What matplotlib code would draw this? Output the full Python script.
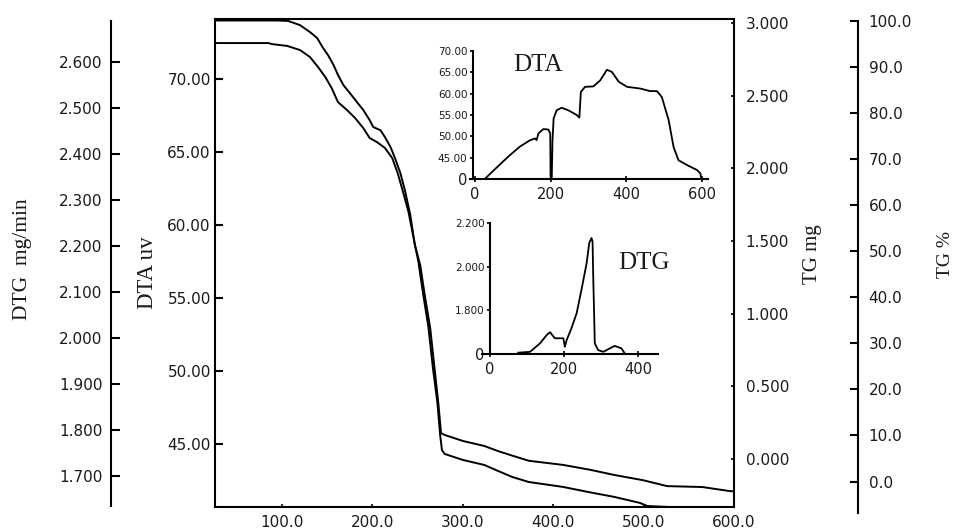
import matplotlib
matplotlib.use("Agg")
import matplotlib.pyplot as plt
from matplotlib.ticker import FixedLocator, FixedFormatter

# ---- main TG curves (temperature in C) ----
TGP_T = [26, 95, 107, 120, 131, 139, 145, 151, 157, 162, 168, 175, 183, 190, 197,
         201, 209, 214, 220, 225, 231, 236, 242, 247, 253, 258, 264, 269, 273, 276,
         280, 300, 324, 339, 355, 373, 411, 442, 468, 499, 526, 565, 596, 600]
TGP_V = [100.0, 100.0, 99.9, 99.0, 97.5, 96.2, 94.2, 92.5, 90.4, 88.2, 86.0, 84.3,
         82.3, 80.6, 78.4, 76.9, 76.2, 74.7, 72.6, 70.2, 66.9, 63.2, 57.8, 51.3,
         46.9, 40.4, 33.3, 24.2, 17.0, 10.5, 10.1, 8.8, 7.7, 6.6, 5.6, 4.5, 3.6,
         2.5, 1.4, 0.3, -1.0, -1.2, -2.1, -2.1]

TGM_T = [26, 85, 89, 106, 120, 131, 140, 148, 155, 162, 172, 181, 190, 197, 205,
         214, 222, 228, 234, 240, 245, 251, 256, 262, 267, 272, 275, 277, 280, 300,
         324, 339, 355, 373, 411, 439, 468, 496, 504, 528, 535, 600]
TGM_V = [2.862, 2.862, 2.855, 2.842, 2.814, 2.766, 2.697, 2.628, 2.553, 2.456,
         2.401, 2.346, 2.277, 2.209, 2.181, 2.140, 2.071, 1.968, 1.837, 1.700,
         1.541, 1.356, 1.142, 0.909, 0.627, 0.385, 0.165, 0.062, 0.035, -0.006,
         -0.041, -0.082, -0.124, -0.158, -0.192, -0.227, -0.261, -0.302, -0.323,
         -0.33, -0.364, -0.406]

# ---- DTA inset ----
DTA_T = [26, 60, 90, 119, 146, 159, 163, 168, 181, 194, 199, 200, 203, 205, 208,
         216, 229, 247, 269, 276, 280, 291, 313, 331, 349, 362, 380, 402, 437, 463,
         481, 494, 512, 525, 538, 560, 587, 596, 598]
DTA_V = [40.0, 42.9, 45.4, 47.6, 49.1, 49.5, 49.1, 50.7, 51.7, 51.6, 50.7, 40.0,
         40.0, 49.0, 54.2, 56.1, 56.7, 56.1, 55.0, 54.4, 60.4, 61.6, 61.7, 63.1,
         65.6, 65.1, 62.8, 61.6, 61.2, 60.6, 60.6, 59.2, 53.8, 47.5, 44.4, 43.3,
         42.1, 41.3, 40.0]

# ---- DTG inset ----
DTG_T = [76, 108, 135, 153, 162, 175, 198, 202, 207, 220, 234, 247, 261, 268, 274,
         277, 279, 281, 283, 292, 306, 324, 337, 355, 364]
DTG_V = [1.606, 1.610, 1.649, 1.687, 1.700, 1.672, 1.672, 1.633, 1.664, 1.718,
         1.787, 1.894, 2.016, 2.108, 2.131, 2.116, 1.940, 1.800, 1.649, 1.618,
         1.610, 1.626, 1.637, 1.626, 1.603]

X_TICKS = [100, 200, 300, 400, 500, 600]
DTA_TICKS = [45, 50, 55, 60, 65, 70]
TGMG_TICKS = [0, 0.5, 1.0, 1.5, 2.0, 2.5, 3.0]
TGP_TICKS = [0, 10, 20, 30, 40, 50, 60, 70, 80, 90, 100]
DTG_TICKS = [1.7, 1.8, 1.9, 2.0, 2.1, 2.2, 2.3, 2.4, 2.5, 2.6]
IN_DTA_YT = [40, 45, 50, 55, 60, 65, 70]
IN_DTA_YL = ["0", "45.00", "50.00", "55.00", "60.00", "65.00", "70.00"]
IN_DTA_XT = [0, 200, 400, 600]
IN_DTG_YT = [1.6, 1.8, 2.0, 2.2]
IN_DTG_YL = ["0", "1.800", "2.000", "2.200"]
IN_DTG_XT = [0, 200, 400]

W, H = 955, 532
TC = "#1a1a1a"
SERIF = "Liberation Serif"
plt.rcParams["font.family"] = "DejaVu Sans"
plt.rcParams["axes.linewidth"] = 1.5


def fr(x0, y0, x1, y1):
    return [x0 / W, 1 - y1 / H, (x1 - x0) / W, (y1 - y0) / H]


fig = plt.figure(figsize=(W / 100, H / 100), dpi=100)
ax = fig.add_axes(fr(215, 19, 734, 507))
ax.set_xlim(26, 600)
ax.set_ylim(40.68, 74.11)
ax.set_xticks(X_TICKS)
ax.set_xticklabels([f"{v:.1f}" for v in X_TICKS])
ax.set_yticks(DTA_TICKS)
ax.set_yticklabels([f"{v:.2f}" for v in DTA_TICKS])
ax.tick_params(axis="x", direction="in", length=2.5, width=1.2, pad=6,
               labelsize=11, labelcolor=TC)
ax.tick_params(axis="y", direction="in", length=6, width=1.5, pad=3,
               labelsize=11, labelcolor=TC)
ax.spines["right"].set_visible(False)

# TG mg on the right frame
ax2 = ax.twinx()
ax2.set_ylim(-0.33, 3.0275)
ax2.set_yticks(TGMG_TICKS)
ax2.set_yticklabels([f"{v:.3f}" for v in TGMG_TICKS])
ax2.tick_params(axis="y", direction="in", length=2.5, width=1.2, pad=8.5,
                labelsize=11, labelcolor=TC)
for s in ["left", "top", "bottom"]:
    ax2.spines[s].set_visible(False)
ax2.plot(TGM_T, TGM_V, color="black", lw=1.4)

# TG % offset axis
ax3 = ax.twinx()
ax3.set_ylim(-5.53, 100.33)
ax3.spines["right"].set_position(("axes", 1.238))
ax3.spines["right"].set_bounds(-6.8, 100)
for s in ["left", "top", "bottom"]:
    ax3.spines[s].set_visible(False)
ax3.set_yticks(TGP_TICKS)
ax3.set_yticklabels([f"{v:.1f}" for v in TGP_TICKS])
ax3.tick_params(axis="y", direction="in", length=5.5, width=1.5, pad=8,
                labelsize=11, labelcolor=TC)
ax3.plot(TGP_T, TGP_V, color="black", lw=1.4)

# DTG offset axis on the far left
ax4 = ax.twinx()
ax4.set_ylim(1.632, 2.6935)
ax4.yaxis.set_ticks_position("left")
ax4.yaxis.set_label_position("left")
ax4.spines["left"].set_visible(True)
ax4.spines["left"].set_position(("axes", -0.2004))
ax4.spines["left"].set_bounds(1.634, 2.689)
for s in ["right", "top", "bottom"]:
    ax4.spines[s].set_visible(False)
ax4.set_yticks(DTG_TICKS)
ax4.set_yticklabels([f"{v:.3f}" for v in DTG_TICKS])
ax4.tick_params(axis="y", direction="in", length=6.5, width=1.5, pad=6,
                labelsize=11, labelcolor=TC)

# axis titles
lab = dict(family=SERIF, rotation=90, ha="center", va="center", color=TC)
fig.text(22 / W, 1 - 259 / H, "DTG  mg/min", fontsize=15.5, **lab)
fig.text(147 / W, 1 - 273 / H, "DTA uv", fontsize=16.5, **lab)
fig.text(812 / W, 1 - 254 / H, "TG mg", fontsize=15, **lab)
fig.text(945 / W, 1 - 255 / H, "TG %", fontsize=14, **lab)

# DTA inset
ia = fig.add_axes(fr(470, 51, 708, 179))
ia.patch.set_alpha(0)
ia.plot(DTA_T, DTA_V, color="black", lw=1.3)
ia.set_xlim(-13, 616)
ia.set_ylim(40, 70)
ia.spines["left"].set_position(("data", -5))
for s in ["right", "top"]:
    ia.spines[s].set_visible(False)
ia.yaxis.set_major_locator(FixedLocator(IN_DTA_YT))
ia.yaxis.set_major_formatter(FixedFormatter(IN_DTA_YL))
ia.set_xticks(IN_DTA_XT)
ia.tick_params(axis="y", direction="out", length=2.5, width=1.2, pad=1.5,
               labelsize=7.5, labelcolor=TC)
ia.tick_params(axis="x", direction="inout", length=4, width=1.2, pad=4,
               labelsize=10.5, labelcolor=TC)
ia.get_yticklabels()[0].set_fontsize(10.5)
ia.text(0.286, 0.887, "DTA", transform=ia.transAxes, family=SERIF, fontsize=18,
        ha="center", va="center", color=TC)

# DTG inset
ig = fig.add_axes(fr(482, 223, 658, 354))
ig.patch.set_alpha(0)
ig.plot(DTG_T, DTG_V, color="black", lw=1.3)
ig.set_xlim(-22, 454)
ig.set_ylim(1.6, 2.2)
ig.spines["left"].set_position(("data", 0))
for s in ["right", "top"]:
    ig.spines[s].set_visible(False)
ig.yaxis.set_major_locator(FixedLocator(IN_DTG_YT))
ig.yaxis.set_major_formatter(FixedFormatter(IN_DTG_YL))
ig.set_xticks(IN_DTG_XT)
ig.tick_params(axis="y", direction="out", length=2.5, width=1.2, pad=1.5,
               labelsize=7.5, labelcolor=TC)
ig.tick_params(axis="x", direction="inout", length=4, width=1.2, pad=4,
               labelsize=10.5, labelcolor=TC)
ig.get_yticklabels()[0].set_fontsize(10.5)
ig.text(0.920, 0.691, "DTG", transform=ig.transAxes, family=SERIF, fontsize=18,
        ha="center", va="center", color=TC)

fig.savefig("out.png", dpi=100)
